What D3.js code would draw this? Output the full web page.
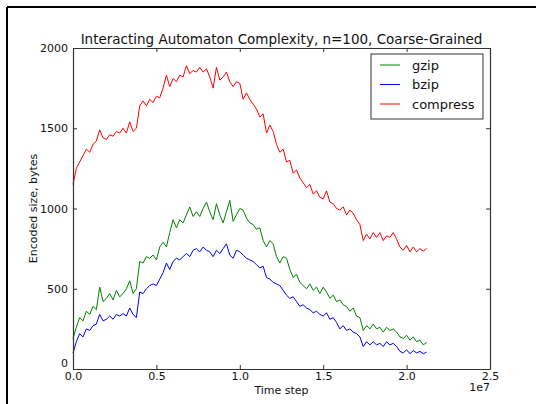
<!DOCTYPE html>
<html><head><meta charset="utf-8">
<script src="https://cdn.jsdelivr.net/npm/d3@7/dist/d3.min.js"></script>
<style>
html,body{margin:0;padding:0;background:#fff;}
svg{display:block;font-family:"DejaVu Sans",sans-serif;}
</style></head>
<body>
<script>
const title = "Interacting Automaton Complexity, n=100, Coarse-Grained";
const xLabel = "Time step";
const yLabel = "Encoded size, bytes";
const xTicks = [0, 5e6, 1e7, 1.5e7, 2e7, 2.5e7];
const xTickLabels = ["0.0", "0.5", "1.0", "1.5", "2.0", "2.5"];
const yTicks = [0, 500, 1000, 1500, 2000];
const yTickLabels = ["0", "500", "1000", "1500", "2000"];
const stepSize = 200000;
const seriesNames = ["gzip", "bzip", "compress"];
const seriesColors = ["#008000", "#0000ff", "#ff0000"];

const gzip = [190,260,320,300,360,340,390,370,510,420,440,470,430,490,450,470,500,550,470,500,
670,660,700,690,710,680,760,790,760,850,930,880,930,910,960,1010,950,980,950,1000,
1040,980,930,1030,960,910,980,1050,920,960,1000,990,940,910,900,870,880,800,760,800,
780,700,660,700,690,620,570,590,540,520,500,530,490,510,470,510,480,440,460,420,
430,400,390,360,380,330,320,240,270,250,280,250,260,230,260,240,250,230,200,190,
210,180,200,170,180,150,165];
const bzip = [100,170,220,200,250,240,270,280,340,300,310,330,310,340,330,345,330,380,340,320,
480,470,500,520,530,520,560,600,660,620,670,690,680,700,720,700,740,750,730,760,
740,730,700,740,720,750,780,710,690,740,730,710,690,680,670,650,630,640,570,560,
540,530,520,490,460,440,450,420,390,400,380,370,350,360,340,330,350,310,320,290,
250,270,240,250,230,220,200,140,170,150,170,150,160,140,170,150,160,140,110,100,
120,95,115,100,110,95,105];
const compress = [1150,1250,1290,1330,1370,1350,1400,1420,1490,1440,1430,1460,1450,1480,1470,1500,1470,1540,1480,1500,
1640,1670,1640,1680,1660,1700,1690,1750,1830,1760,1810,1790,1830,1820,1890,1840,1860,1850,1880,1850,
1870,1820,1750,1880,1800,1820,1850,1790,1760,1790,1780,1680,1720,1680,1650,1620,1570,1590,1470,1520,
1480,1400,1350,1370,1290,1300,1220,1240,1190,1160,1130,1150,1090,1110,1070,1060,1110,1040,1030,1000,
990,1010,960,990,970,930,900,800,840,810,850,820,850,800,830,820,850,810,760,740,
770,730,760,730,750,735,750];
const allSeries = [gzip, bzip, compress];

const W = 536, H = 404;
const L = 73, R = 490, T = 48, B = 369;
const svg = d3.select("body").append("svg").attr("width", W).attr("height", H);

// outer frame (left + top)
svg.append("line").attr("x1",7).attr("y1",7).attr("x2",536).attr("y2",7).attr("stroke","#000").attr("stroke-width",2);
svg.append("line").attr("x1",7).attr("y1",7).attr("x2",7).attr("y2",404).attr("stroke","#000").attr("stroke-width",2);

const x = d3.scaleLinear().domain([0, 2.5e7]).range([L, R]);
const y = d3.scaleLinear().domain([0, 2000]).range([B, T]);

const line = d3.line().x((d,i)=>x(i*stepSize)).y(d=>y(d));
const g = svg.append("g");
allSeries.forEach((s, k) => {
  g.append("path").datum(s).attr("d", line).attr("fill","none")
    .attr("stroke", seriesColors[k]).attr("stroke-width", 1).attr("stroke-linejoin","round");
});

// axes (inward ticks, all sides)
const axisColor = "#333";
const xb = svg.append("g").attr("transform",`translate(0,${B})`)
  .call(d3.axisBottom(x).tickValues(xTicks).tickFormat((d,i)=>xTickLabels[i]).tickSizeInner(-4).tickSizeOuter(0).tickPadding(3));
const xt = svg.append("g").attr("transform",`translate(0,${T})`)
  .call(d3.axisTop(x).tickValues(xTicks).tickFormat("").tickSizeInner(-4).tickSizeOuter(0));
const yl = svg.append("g").attr("transform",`translate(${L},0)`)
  .call(d3.axisLeft(y).tickValues(yTicks).tickFormat((d,i)=>yTickLabels[i]).tickSizeInner(-4).tickSizeOuter(0).tickPadding(5));
const yr = svg.append("g").attr("transform",`translate(${R},0)`)
  .call(d3.axisRight(y).tickValues(yTicks).tickFormat("").tickSizeInner(-4).tickSizeOuter(0));
[xb,xt,yl,yr].forEach(a=>{
  a.selectAll("path").attr("stroke",axisColor).attr("stroke-width",1.2);
  a.selectAll("line").attr("stroke",axisColor);
  a.selectAll("text").attr("font-family","DejaVu Sans").attr("font-size",11).attr("fill","#111");
});
yl.selectAll(".tick").filter(d=>d===0).select("text").attr("dy","-0.2em");

// title & labels
svg.append("text").attr("x",(L+R)/2).attr("y",44).attr("text-anchor","middle")
  .attr("font-size",13.5).attr("fill","#111").text(title);
svg.append("text").attr("x",(L+R)/2).attr("y",394).attr("text-anchor","middle")
  .attr("font-size",11).attr("fill","#111").text(xLabel);
svg.append("text").attr("x",R).attr("y",391).attr("text-anchor","end")
  .attr("font-size",11).attr("fill","#111").text("1e7");
svg.append("text").attr("transform",`translate(37,${(T+B)/2}) rotate(-90)`).attr("text-anchor","middle")
  .attr("font-size",11).attr("fill","#111").text(yLabel);

// legend
const lg = svg.append("g");
lg.append("rect").attr("x",371).attr("y",54).attr("width",112).attr("height",65)
  .attr("fill","#fff").attr("stroke",axisColor).attr("stroke-width",1);
seriesNames.forEach((n,k)=>{
  const yy = 65 + k*19.5;
  lg.append("line").attr("x1",380).attr("x2",400).attr("y1",yy).attr("y2",yy)
    .attr("stroke",seriesColors[k]).attr("stroke-width",1);
  lg.append("text").attr("x",412).attr("y",yy).attr("dy","0.35em")
    .attr("font-size",13).attr("fill","#111").text(n);
});
</script>
</body></html>
